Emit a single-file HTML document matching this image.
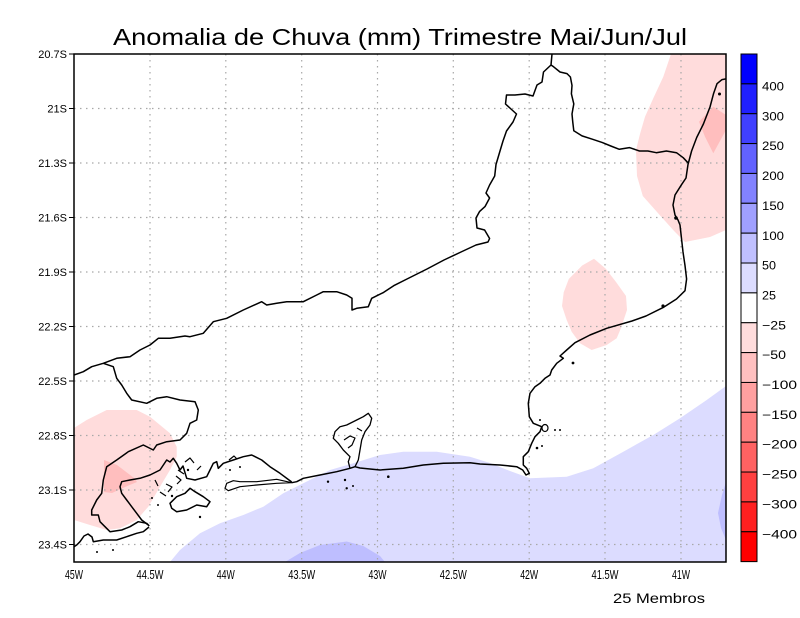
<!DOCTYPE html>
<html><head><meta charset="utf-8"><style>
html,body{margin:0;padding:0;background:#fff;}
svg{display:block;}
text{font-family:"Liberation Sans",sans-serif;fill:#000;}
</style></head><body>
<svg width="800" height="618" viewBox="0 0 800 618" xmlns="http://www.w3.org/2000/svg">
<rect width="800" height="618" fill="#fff"/>
<!-- Title -->
<text x="113" y="45" font-size="23" textLength="574" lengthAdjust="spacingAndGlyphs">Anomalia de Chuva (mm) Trimestre Mai/Jun/Jul</text>

<defs><clipPath id="c"><rect x="74" y="54" width="652" height="508"/></clipPath></defs>
<g clip-path="url(#c)">
<!-- shading -->
<path fill="#dcdcff" d="M170,562 L180,550 L200,533.3 L220,523.3 L243.3,515 L263.3,506.7 L283.3,493.3 L303.3,483.3 L330,470 L353.3,463.3 L380,455 L403.3,451.7 L436.7,451.7 L470,456.7 L490,463 L510,471 L530,478.3 L566.7,476.7 L593.3,468.3 L623.3,451.7 L653.3,435 L680,418.3 L706.7,400 L726,386 L726,562 Z"/>
<path fill="#bebeff" d="M285,562 L300,553 L320,545 L346.7,541.5 L363.3,546 L380,556 L385,562 Z"/>
<path fill="#bebeff" d="M726,482 L722,495 L718,513 L721,528 L726,540 Z"/>
<path fill="#ffdcdc" d="M671,54 L726,54 L726,230 L710,237 L685,242 L674.8,231.8 L659.7,215 L642.8,196 L637,176 L636,150 L640,134 L645,116.7 L653.3,98.3 L663.3,76.7 Z"/>
<path fill="#ffbebe" d="M699,121.7 L713.3,106.7 L726,115 L726,130 L713.3,153.3 L705,136.7 Z"/>
<path fill="#ffdcdc" d="M594,258.8 L582.2,265.5 L568.8,279 L563.7,292.4 L562,306 L566.7,320 L571.7,331.7 L580,343.3 L591.7,350 L606.7,345 L616.7,338.3 L621,328 L627,310 L626,296 L616,282 L605.8,268.8 Z"/>
<path fill="#ffdcdc" d="M74,428 L86.7,420 L106.7,410 L136.7,410 L150,416.7 L170,433.3 L176.7,446.7 L176.7,456.7 L170,470 L160,486.7 L148.3,506.7 L136.7,520 L120,528.3 L106.7,530 L90,525 L74,520 Z"/>
<path fill="#ffbebe" d="M104,460 L117,465 L134,478 L137,482 L125,487 L112,493 L104,492 Z"/>

<!-- grid -->
<g stroke="#a8a8a8" stroke-width="1.2" stroke-dasharray="1.5,4.5" fill="none">
<path d="M150,54V562 M225.8,54V562 M301.7,54V562 M377.5,54V562 M453.3,54V562 M529.2,54V562 M605,54V562 M681,54V562"/>
<path d="M74,108.5H726 M74,163H726 M74,217.5H726 M74,272H726 M74,326.5H726 M74,381H726 M74,435.5H726 M74,490H726 M74,544.5H726"/>
</g>

<!-- borders / coast -->
<g fill="none" stroke="#000" stroke-width="1.5" stroke-linejoin="round">
<path d="M74,375 L83.3,371.7 L91.7,366.7 L103.3,363.3 L116.7,358.3 L130,356.7 L140,350 L150,345 L158.3,338.3 L170,338.3 L185,336 L190,336.7 L203.3,333.3 L213.3,321.7 L226.7,318.3 L243.3,310 L261.7,301.7 L266.7,305 L276.7,303.3 L286.7,301.7 L296.7,301.7 L303.3,301.7 L316.7,295 L323.3,291.7 L336.7,291.7 L346.7,295 L352,298.3 L352,310 L356.7,308.3 L368.3,306.7 L371.7,298.3 L383.6,292.4 L393.7,285.7 L407,279 L427,269 L444,260 L461,252 L476,245 L488,242 L489.6,238.5 L484.6,230 L477,228 L476,218 L479.5,211.6 L485,206.6 L489.6,198 L486,193 L489.6,185 L494.7,176 L496,164.5 L500,151 L503,141 L506.5,131 L513,122 L516.5,114 L511,109 L505.5,104 L506.5,95 L515,95 L525,94 L533,96 L537,85 L542,82 L543.5,72 L551,65 L552,54"/>
<path d="M551,65 L553.6,66.8 L560,72 L567,73.6 L570.4,77 L572,85.4 L571.4,93.8 L573.8,103.9 L572,114 L572.8,122.4 L573.8,130.8 L582,135.9 L592.3,139.2 L602.4,142.6 L610.8,146 L619.3,149.3 L629.4,147.6 L639.5,151 L647.9,151 L656.3,152.7 L666.4,151 L676.5,152.7 L683.2,157.7 L688,162.8"/>
<path d="M726,78.8 L722,79.6 L717,83.7 L713.5,93.8 L710,107 L703.4,124 L696.7,137.5 L691.6,151 L688,164.5 L686,178 L681.5,184.7 L675,195 L673,205 L675,215 L678,220 L680,225 L681.5,238.6 L683,252 L685,265.5 L686.6,279 L685,290.7 L676.5,299 L663,307.6 L646,316 L632,321 L606.7,328.3 L590,335 L575,342.7 L566.7,350 L560,356 L563.3,358.3 L556.7,363.3 L551.7,370 L550,375 L545,378.3 L540,383.3 L535,386.7 L530,393.3 L528.3,403.3 L529.3,416.7 L533.3,423.3 L541.7,426.7 L540,431.7 L535,436.7 L531.7,443.3 L528.3,451.7 L523.3,456.7 L523.3,465 L526.7,468.3 L529.3,473.3 L526,475 L522.7,470 L516.7,466.7 L500,465 L480,464 L470,462.7 L443.3,463.3 L423.3,465 L403.3,468.3 L380,470 L360,468 L355,466.7 L350,468.3 L336.7,471.7 L320,475 L303.3,478.3 L296.7,481.7 L291.7,482.7"/>
<path d="M103.3,363.3 L113.3,366.7 L116.7,378.3 L121.7,385 L126.7,393.3 L131.7,400 L146.7,403.3 L156.7,398.3 L166.7,396.7 L180,400 L195,401.7 L198.3,410 L196.7,420 L190,423.3 L186.7,433.3 L180,440 L166.7,441.7 L156.7,445 L153.3,450 L143.3,445 L128.3,451.7 L116.7,460 L106.7,466.7 L103.3,480 L101.7,493.3 L96.7,500 L91.7,510 L91.7,515 L98.3,515 L100,521.7 L105,526.7 L110,531.7 L121.7,530 L130,526.7 L138.3,521.7 L146.7,523.3 L149.3,526"/>
<path d="M74,546.7 L76.7,545 L80,541.7 L84,536 L88,534 L92,537 L93.3,541.7 L103.3,540 L116.7,540 L126.7,536.7 L136.7,533.3 L143.3,531.7 L149,527"/>
<path d="M148.3,525 L141.7,520 L136.7,513.3 L131.7,506.7 L126.7,500 L121.7,493.3 L120,486.7 L121.7,481.7 L130,480 L140,478.3 L150,475 L160,470 L166.7,460 L170,462 L173.3,458.3 L176.7,463.3 L180,470 L183,466 L186.7,478.3 L195,480 L206.7,476.7 L210,470 L213.3,463.3 L216.7,461.7 L218.3,468.3 L223.3,463.3 L233.3,460 L243.3,456.7 L251.7,455 L261.7,460 L270,466.7 L280,473.3 L291.7,482"/>
<path d="M170,503.3 L176.7,496.7 L185,493.3 L190,488.3 L195,491.7 L203.3,496.7 L210,501.7 L206.7,506.7 L196.7,505 L186.7,510 L176.7,511.7 L171.7,508.3 Z"/>
<path d="M225,488.3 L226.7,483.3 L233.3,480.7 L240,481.7 L256.7,481.7 L276.7,479.3 L291.7,482.7 L276.7,483.3 L256.7,485 L240,486.7 L228.3,490.7 Z" stroke-width="1.2"/>
<path d="M350,468.3 L348.3,461.7 L350,456.7 L343.3,450 L338.3,443.3 L333.3,438.3 L335,431.7 L340,426.7 L346.7,425 L356.7,420 L363.3,416.7 L368.3,413.3 L371.7,418.3 L370,425 L365,431.7 L361.7,440 L360,450 L358.3,460 L355,466.7" stroke-width="1.3"/>
<path d="M344,440 L350,436 L355,438 L352,445 L348,448 M357,428 L362,431 M166,484 L172,487 L168,492 M160,492 L166,496 M178,470 L184,474 M185,462 L190,458 L194,463 M176,476 L181,480 L177,484 M197,470 L201,466 M229,460 L234,456 L237,459 M155,480 L158,486" stroke-width="1.2"/>
<ellipse cx="545" cy="428" rx="3" ry="3.5" stroke-width="1.2"/>
</g>
<g fill="#000">
<circle cx="719.5" cy="94" r="1.5"/><circle cx="573" cy="363" r="1.4"/><circle cx="555" cy="430" r="1"/><circle cx="560" cy="430" r="1"/>
<circle cx="537" cy="448" r="1.3"/><circle cx="542" cy="446" r="1"/><circle cx="540" cy="420" r="1"/>
<circle cx="328" cy="481.7" r="1.2"/><circle cx="345" cy="480" r="1.2"/><circle cx="346.7" cy="488.3" r="1.2"/><circle cx="353" cy="486" r="1"/><circle cx="388.3" cy="476.7" r="1.3"/>
<circle cx="663" cy="306" r="1.6"/><circle cx="676" cy="218" r="1.8"/>
<circle cx="158" cy="505" r="1"/><circle cx="152" cy="498" r="1"/><circle cx="200" cy="517" r="1.2"/><circle cx="113" cy="550" r="1"/><circle cx="97" cy="552" r="1"/>
<circle cx="172" cy="496" r="1.2"/><circle cx="188" cy="470" r="1.2"/><circle cx="230" cy="470" r="1"/><circle cx="240" cy="467" r="1"/>
</g>
</g>
<rect x="74" y="54" width="652" height="508" fill="none" stroke="#000" stroke-width="1.5"/>

<!-- left ticks -->
<g stroke="#000" stroke-width="1">
<path d="M69,54H74 M69,108.5H74 M69,163H74 M69,217.5H74 M69,272H74 M69,326.5H74 M69,381H74 M69,435.5H74 M69,490H74 M69,544.5H74"/>
</g>
<g font-size="11" text-anchor="end">
<text x="67" y="58">20.7S</text>
<text x="67" y="112.5">21S</text>
<text x="67" y="167">21.3S</text>
<text x="67" y="221.5">21.6S</text>
<text x="67" y="276">21.9S</text>
<text x="67" y="330.5">22.2S</text>
<text x="67" y="385">22.5S</text>
<text x="67" y="439.5">22.8S</text>
<text x="67" y="494">23.1S</text>
<text x="67" y="548.5">23.4S</text>
</g>
<g font-size="12.5" text-anchor="middle">
<text x="74" y="579" textLength="18" lengthAdjust="spacingAndGlyphs">45W</text>
<text x="150" y="579" textLength="27" lengthAdjust="spacingAndGlyphs">44.5W</text>
<text x="225.8" y="579" textLength="18" lengthAdjust="spacingAndGlyphs">44W</text>
<text x="301.7" y="579" textLength="27" lengthAdjust="spacingAndGlyphs">43.5W</text>
<text x="377.5" y="579" textLength="18" lengthAdjust="spacingAndGlyphs">43W</text>
<text x="453.3" y="579" textLength="27" lengthAdjust="spacingAndGlyphs">42.5W</text>
<text x="529.2" y="579" textLength="18" lengthAdjust="spacingAndGlyphs">42W</text>
<text x="605" y="579" textLength="27" lengthAdjust="spacingAndGlyphs">41.5W</text>
<text x="681" y="579" textLength="18" lengthAdjust="spacingAndGlyphs">41W</text>
</g>
<text x="613" y="603" font-size="14" textLength="92" lengthAdjust="spacingAndGlyphs">25 Membros</text>

<!-- colorbar -->
<g stroke="#000" stroke-width="1">
<rect x="741" y="54" width="16" height="29.86" fill="#0000ff"/>
<rect x="741" y="83.86" width="16" height="29.86" fill="#2020ff"/>
<rect x="741" y="113.72" width="16" height="29.86" fill="#4040ff"/>
<rect x="741" y="143.58" width="16" height="29.86" fill="#6262ff"/>
<rect x="741" y="173.44" width="16" height="29.86" fill="#8282ff"/>
<rect x="741" y="203.3" width="16" height="29.86" fill="#a0a0ff"/>
<rect x="741" y="233.16" width="16" height="29.86" fill="#c0c0ff"/>
<rect x="741" y="263.02" width="16" height="29.86" fill="#dcdcff"/>
<rect x="741" y="292.88" width="16" height="29.86" fill="#ffffff"/>
<rect x="741" y="322.74" width="16" height="29.86" fill="#ffdcdc"/>
<rect x="741" y="352.6" width="16" height="29.86" fill="#ffc0c0"/>
<rect x="741" y="382.46" width="16" height="29.86" fill="#ffa0a0"/>
<rect x="741" y="412.32" width="16" height="29.86" fill="#ff8282"/>
<rect x="741" y="442.18" width="16" height="29.86" fill="#ff6262"/>
<rect x="741" y="472.04" width="16" height="29.86" fill="#ff4040"/>
<rect x="741" y="501.9" width="16" height="29.86" fill="#ff2020"/>
<rect x="741" y="531.76" width="16" height="29.86" fill="#ff0000"/>
</g>
<g font-size="12">
<text x="762" y="90.5" textLength="22" lengthAdjust="spacingAndGlyphs">400</text>
<text x="762" y="120.4" textLength="22" lengthAdjust="spacingAndGlyphs">300</text>
<text x="762" y="150.2" textLength="22" lengthAdjust="spacingAndGlyphs">250</text>
<text x="762" y="180.1" textLength="22" lengthAdjust="spacingAndGlyphs">200</text>
<text x="762" y="209.9" textLength="22" lengthAdjust="spacingAndGlyphs">150</text>
<text x="762" y="239.8" textLength="22" lengthAdjust="spacingAndGlyphs">100</text>
<text x="762" y="269.6" textLength="14" lengthAdjust="spacingAndGlyphs">50</text>
<text x="762" y="299.5" textLength="14" lengthAdjust="spacingAndGlyphs">25</text>
<text x="762" y="329.3" textLength="24" lengthAdjust="spacingAndGlyphs">−25</text>
<text x="762" y="359.2" textLength="24" lengthAdjust="spacingAndGlyphs">−50</text>
<text x="762" y="389" textLength="35" lengthAdjust="spacingAndGlyphs">−100</text>
<text x="762" y="418.9" textLength="35" lengthAdjust="spacingAndGlyphs">−150</text>
<text x="762" y="448.7" textLength="35" lengthAdjust="spacingAndGlyphs">−200</text>
<text x="762" y="478.6" textLength="35" lengthAdjust="spacingAndGlyphs">−250</text>
<text x="762" y="508.4" textLength="35" lengthAdjust="spacingAndGlyphs">−300</text>
<text x="762" y="538.3" textLength="35" lengthAdjust="spacingAndGlyphs">−400</text>
</g>
</svg>
</body></html>
